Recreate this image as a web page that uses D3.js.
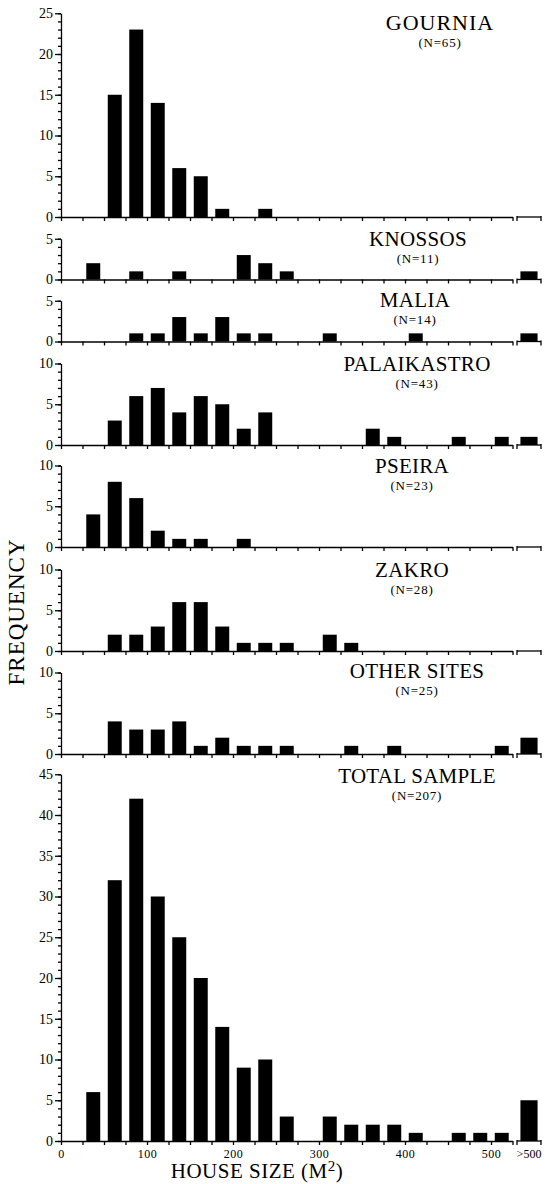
<!DOCTYPE html>
<html>
<head>
<meta charset="utf-8">
<script src="https://cdn.jsdelivr.net/npm/d3@7"></script>
<style>
  body { margin: 0; background: #fff; }
  text { font-family: "Liberation Serif", "Times New Roman", serif; fill: #000; }
  .axis path, .axis line { stroke: #000; stroke-width: 1.3; }
</style>
</head>
<body>
<svg id="chart" width="552" height="1184"></svg>
<script>
// bins of 25 m2, lower edges 0..500, plus the open ">500" bin
const BIN_STARTS = d3.range(0, 525, 25);
const OVER_BIN = ">500";
const X_TICKS = d3.range(0, 526, 25);
const X_LABELS = [0, 100, 200, 300, 400, 500];

const SITES = ["GOURNIA", "KNOSSOS", "MALIA", "PALAIKASTRO", "PSEIRA", "ZAKRO", "OTHER SITES", "TOTAL SAMPLE"];
const SITE_N = [65, 11, 14, 43, 23, 28, 25, 207];
const Y_MAX = [25, 5, 5, 10, 10, 10, 10, 45];

// counts per bin (21 regular bins) followed by the >500 bin
const gournia     = [0, 0, 15, 23, 14, 6, 5, 1, 0, 1, 0, 0, 0, 0, 0, 0, 0, 0, 0, 0, 0, 0];
const knossos     = [0, 2, 0, 1, 0, 1, 0, 0, 3, 2, 1, 0, 0, 0, 0, 0, 0, 0, 0, 0, 0, 1];
const malia       = [0, 0, 0, 1, 1, 3, 1, 3, 1, 1, 0, 0, 1, 0, 0, 0, 1, 0, 0, 0, 0, 1];
const palaikastro = [0, 0, 3, 6, 7, 4, 6, 5, 2, 4, 0, 0, 0, 0, 2, 1, 0, 0, 1, 0, 1, 1];
const pseira      = [0, 4, 8, 6, 2, 1, 1, 0, 1, 0, 0, 0, 0, 0, 0, 0, 0, 0, 0, 0, 0, 0];
const zakro       = [0, 0, 2, 2, 3, 6, 6, 3, 1, 1, 1, 0, 2, 1, 0, 0, 0, 0, 0, 0, 0, 0];
const otherSites  = [0, 0, 4, 3, 3, 4, 1, 2, 1, 1, 1, 0, 0, 1, 0, 1, 0, 0, 0, 0, 1, 2];
const totalSample = [0, 6, 32, 42, 30, 25, 20, 14, 9, 10, 3, 0, 3, 2, 2, 2, 1, 0, 1, 1, 1, 5];
const COUNTS = [gournia, knossos, malia, palaikastro, pseira, zakro, otherSites, totalSample];

// layout
const X_LEFT = 61, X_RIGHT = 512.5;       // 0 .. 525 m2
const OVER_LEFT = 517, OVER_RIGHT = 541;  // >500 segment after the break
const UNIT = 8.15;                        // px per house
const PANEL_BASE = [217, 279.5, 341.5, 445, 547, 651, 754, 1141];
const TITLE_Y = [30, 246, 307, 370.5, 473, 576.5, 678, 783];
const TITLE_X = [440, 418, 415, 417, 412, 412, 417, 417];

const svg = d3.select("#chart");

const xLin = d3.scaleLinear().domain([0, 525]).range([X_LEFT, X_RIGHT]);
const xBand = d3.scaleBand().domain(BIN_STARTS).range([X_LEFT, X_RIGHT])
    .paddingInner(0.35).paddingOuter(0.175);
const xOver = d3.scaleBand().domain([OVER_BIN]).range([OVER_LEFT, OVER_RIGHT])
    .paddingOuter(0.2);

SITES.forEach((site, p) => {
    const base = PANEL_BASE[p];
    const y = d3.scaleLinear().domain([0, Y_MAX[p]]).range([base, base - Y_MAX[p] * UNIT]);
    const g = svg.append("g");
    const isLast = p === SITES.length - 1;

    // bars
    const counts = COUNTS[p];
    const rows = counts.map((v, i) => ({ bin: i < BIN_STARTS.length ? BIN_STARTS[i] : OVER_BIN, v: v }));
    g.selectAll("rect")
        .data(rows.filter(d => d.v > 0))
        .enter().append("rect")
        .attr("x", d => d.bin === OVER_BIN ? xOver(d.bin) : xBand(d.bin))
        .attr("width", d => d.bin === OVER_BIN ? xOver.bandwidth() : xBand.bandwidth())
        .attr("y", d => y(d.v))
        .attr("height", d => y(0) - y(d.v))
        .attr("fill", "#000");

    // x axis, main part
    const xAxis = d3.axisBottom(xLin)
        .tickValues(X_TICKS)
        .tickSize(4)
        .tickSizeOuter(0)
        .tickPadding(4)
        .tickFormat(d => (isLast && X_LABELS.includes(d)) ? d : "");
    const gx = g.append("g").attr("class", "axis")
        .attr("transform", `translate(0,${base})`)
        .call(xAxis);
    gx.selectAll("text").style("font-size", "12px").style("letter-spacing", "0.5px");

    // x axis, the >500 piece after the break
    const gOver = g.append("g").attr("class", "axis").attr("transform", `translate(0,${base})`);
    gOver.append("path").attr("d", `M${OVER_LEFT},0H${OVER_RIGHT}`);
    gOver.selectAll("line").data([OVER_LEFT, OVER_RIGHT]).enter().append("line")
        .attr("x1", d => d).attr("x2", d => d).attr("y1", -1).attr("y2", 4);
    if (isLast) {
        gOver.append("text")
            .attr("x", xOver(OVER_BIN) + xOver.bandwidth() / 2)
            .attr("y", 8)
            .attr("dy", "0.71em")
            .attr("text-anchor", "middle")
            .style("font-size", "12px")
            .text(OVER_BIN);
    }

    // y axis: minor ticks every house, labelled ticks every five
    g.append("g").attr("class", "axis")
        .attr("transform", `translate(${X_LEFT},0)`)
        .call(d3.axisLeft(y).tickValues(d3.range(0, Y_MAX[p] + 1)).tickSize(3).tickFormat(""))
        .select(".domain").remove();
    const gy = g.append("g").attr("class", "axis")
        .attr("transform", `translate(${X_LEFT},0)`)
        .call(d3.axisLeft(y).tickValues(d3.range(0, Y_MAX[p] + 1, 5))
            .tickFormat(d3.format("d")).tickSize(6).tickSizeOuter(0).tickPadding(2));
    gy.selectAll("text").style("font-size", "14px");

    // titles
    g.append("text")
        .attr("x", TITLE_X[p]).attr("y", TITLE_Y[p])
        .attr("text-anchor", "middle")
        .style("font-size", p === 0 ? "22px" : "21px")
        .style("letter-spacing", p === 0 ? "1px" : "0.3px")
        .text(site);
    g.append("text")
        .attr("x", TITLE_X[p]).attr("y", TITLE_Y[p] + 17)
        .attr("text-anchor", "middle")
        .style("font-size", "13px")
        .style("letter-spacing", "0.8px")
        .text(`(N=${SITE_N[p]})`);
});

// axis titles
svg.append("text")
    .attr("transform", "translate(24,612) rotate(-90)")
    .attr("text-anchor", "middle")
    .style("font-size", "23px")
    .style("letter-spacing", "1px")
    .text("FREQUENCY");

const xTitle = svg.append("text")
    .attr("x", 257).attr("y", 1178)
    .attr("text-anchor", "middle")
    .style("font-size", "21px")
    .style("letter-spacing", "0.5px");
xTitle.append("tspan").text("HOUSE SIZE (M");
xTitle.append("tspan").attr("dy", -7).style("font-size", "15px").text("2");
xTitle.append("tspan").attr("dy", 7).text(")");
</script>
</body>
</html>
